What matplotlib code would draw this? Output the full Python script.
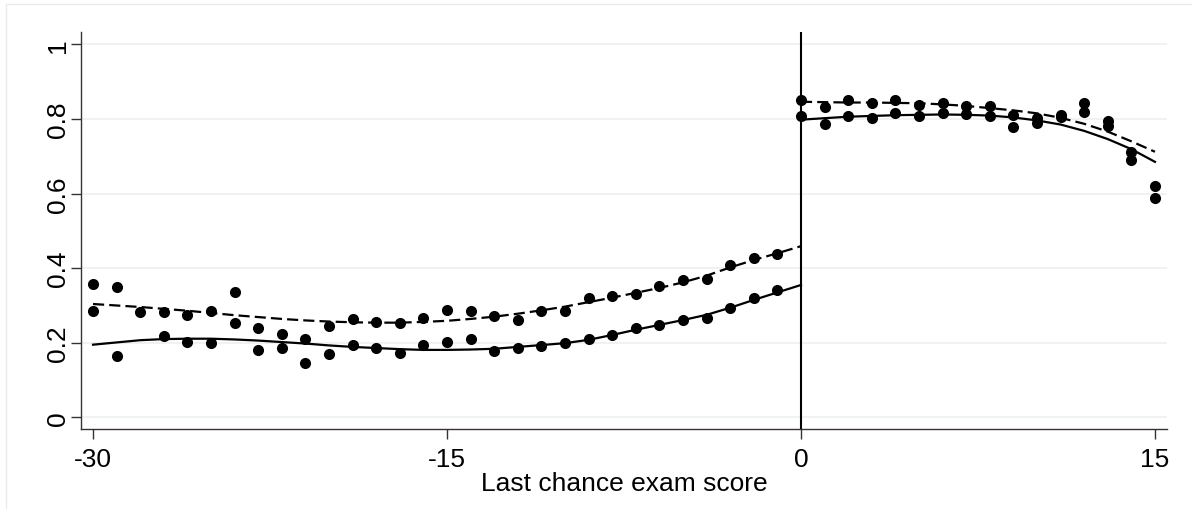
import numpy as np
import matplotlib
matplotlib.use("Agg")
import matplotlib.pyplot as plt
from matplotlib.patches import Rectangle

plt.rcParams['font.family'] = ['Liberation Sans', 'DejaVu Sans']

# binned means (two outcomes)
score = np.arange(-30, 16)
upper = [0.358, 0.349, 0.282, 0.282, 0.275, 0.285, 0.336, 0.239, 0.224, 0.210,
         0.245, 0.265, 0.257, 0.254, 0.266, 0.289, 0.285, 0.271, 0.262, 0.284,
         0.285, 0.320, 0.325, 0.331, 0.353, 0.368, 0.372, 0.408, 0.428, 0.437,
         0.851, 0.833, 0.851, 0.843, 0.850, 0.838, 0.842, 0.834, 0.834, 0.810,
         0.802, 0.810, 0.844, 0.794, 0.712, 0.621]
lower = [0.285, 0.164, np.nan, 0.219, 0.202, 0.199, 0.254, 0.182, 0.185, 0.146,
         0.169, 0.193, 0.187, 0.172, 0.193, 0.202, 0.209, 0.179, 0.186, 0.192,
         0.199, 0.209, 0.222, 0.241, 0.249, 0.260, 0.267, 0.294, 0.320, 0.342,
         0.808, 0.786, 0.809, 0.802, 0.815, 0.807, 0.817, 0.814, 0.809, 0.779,
         0.788, 0.804, 0.818, 0.782, 0.690, 0.587]

# fitted curves on each side of the cutoff
x_left = np.arange(-30, 1)
fit_dash_left = [0.304, 0.300, 0.296, 0.291, 0.286, 0.280, 0.274, 0.269, 0.264, 0.260,
                 0.257, 0.255, 0.254, 0.254, 0.256, 0.259, 0.264, 0.270, 0.278, 0.287,
                 0.297, 0.309, 0.321, 0.334, 0.347, 0.362, 0.380, 0.402, 0.422, 0.440,
                 0.459]
fit_solid_left = [0.195, 0.201, 0.207, 0.210, 0.211, 0.211, 0.209, 0.206, 0.202, 0.198,
                  0.193, 0.189, 0.186, 0.183, 0.181, 0.181, 0.182, 0.184, 0.189, 0.194,
                  0.199, 0.208, 0.221, 0.235, 0.248, 0.261, 0.275, 0.294, 0.315, 0.335,
                  0.355]
x_right = np.arange(0, 16)
fit_dash_right = [0.846, 0.845, 0.844, 0.844, 0.843, 0.842, 0.839, 0.835, 0.829, 0.823,
                  0.815, 0.803, 0.787, 0.766, 0.740, 0.712]
fit_solid_right = [0.798, 0.802, 0.806, 0.808, 0.810, 0.811, 0.812, 0.811, 0.809, 0.804,
                   0.796, 0.785, 0.768, 0.746, 0.719, 0.685]

xticks = [-30, -15, 0, 15]
yticks = [0, 0.2, 0.4, 0.6, 0.8, 1]

fig = plt.figure(figsize=(11.92, 5.10), dpi=100)
fig.patches.append(Rectangle((6 / 1192, -0.1), 1.2, 1 - 5 / 510 + 0.1, transform=fig.transFigure,
                             fill=False, edgecolor='#e6eced', linewidth=1))
ax = fig.add_axes([81 / 1192, 80 / 510, 1086 / 1192, 397 / 510])

for y in yticks:
    ax.axhline(y, color='#eaf1f3', linewidth=1.2, zorder=0)

ax.scatter(score, upper, s=64, color='black', zorder=3, linewidths=0)
ax.scatter(score, lower, s=64, color='black', zorder=3, linewidths=0)

ax.plot(x_left, fit_dash_left, color='black', lw=1.6, dashes=(5, 2.3))
ax.plot(x_left, fit_solid_left, color='black', lw=1.6)
ax.plot(x_right, fit_dash_right, color='black', lw=1.6, dashes=(5, 2.3))
ax.plot(x_right, fit_solid_right, color='black', lw=1.6)

ax.axvline(0, color='black', lw=1.5)

ax.set_xlim(-30.51, 15.51)
ax.set_ylim(-0.031, 1.033)
ax.set_xticks(xticks)
ax.set_xticklabels([str(t) for t in xticks])
ax.set_yticks(yticks)
ax.set_yticklabels(['0', '0.2', '0.4', '0.6', '0.8', '1'], rotation=90, va='center')
ax.tick_params(axis='both', labelsize=19, color='#333333', width=1, length=7)
ax.tick_params(axis='x', pad=6)
ax.tick_params(axis='y', pad=1)

for s in ['top', 'right']:
    ax.spines[s].set_visible(False)
for s in ['left', 'bottom']:
    ax.spines[s].set_color('#333333')
    ax.spines[s].set_linewidth(1)

ax.set_xlabel('Last chance exam score', fontsize=19, labelpad=0)

fig.savefig('out.png', dpi=100)
